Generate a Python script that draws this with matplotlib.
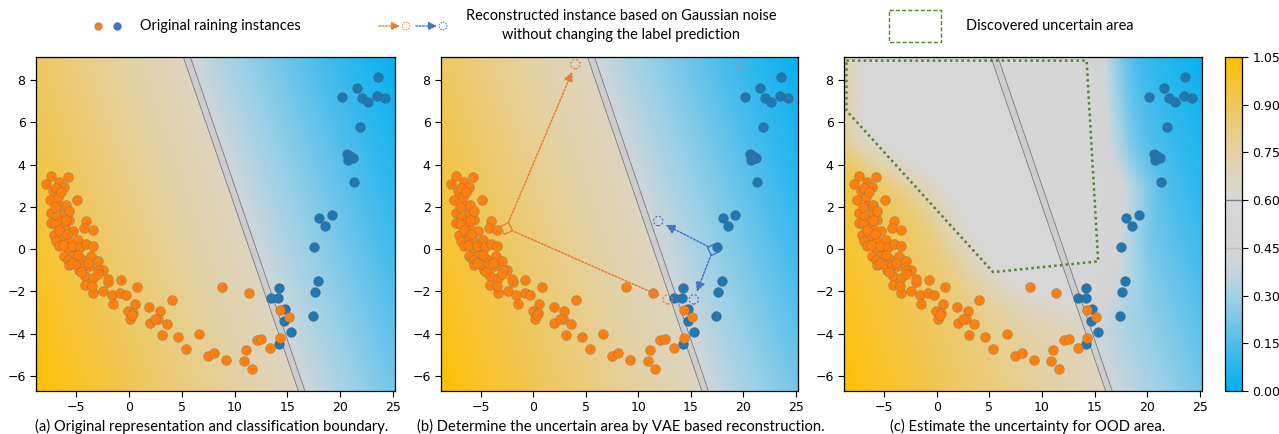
import numpy as np
import matplotlib
matplotlib.use("Agg")
import matplotlib.pyplot as plt
from matplotlib.colors import LinearSegmentedColormap, Normalize
from matplotlib.path import Path
from matplotlib.markers import MarkerStyle
from matplotlib.transforms import Affine2D
from matplotlib.patches import Polygon, Rectangle
import matplotlib.cm as cm

# ---------------- data ----------------
orange_x = [-7.37, -5.79, -7.84, -6.64, -6.11, -7.21, -7.52, -6.73, -6.9, -6.4,
            -6.58, -7.37, -6.26, -5.63, -7.0, -6.9, -6.0, -5.7,
            -7.37, -6.73, -5.95, -5.31, -6.4, -6.0, -7.0,
            -7.05, -6.26, -5.63, -4.84, -6.6, -5.9, -6.9,
            -6.58, -5.79, -5.0, -6.2, -5.4, -4.6,
            -6.11, -5.31, -4.37, -3.58, -2.95, -4.8, -5.8,
            -5.63, -4.69, -3.74, -2.47, -5.1, -4.2,
            -4.94, -4.05, -4.21, -3.42, -4.05, -3.42,
            -5.41, -3.84, -2.89, -4.15, -3.36, -1.94, -0.77, 0.80, -4.15, -3.36,
            -2.42, -1.62, -0.84, -0.30, -1.47, 0.58, 1.93, 4.05, -0.05, 0.42,
            0.11, 2.95, 2.0, 2.79, 3.58, 3.11, 4.62, 5.38, -2.0, -2.95, -3.5, -4.5,
            8.84, 11.37, 6.64, 7.46, 8.06, 9.22, 11.08, 10.89, 11.62, 12.09,
            12.53, 13.38, 14.30, 14.30, 15.12, 0.3, 2.5]
orange_y = [3.44, 3.41, 3.09, 3.20, 2.96, 2.73, 2.34, 2.49, 2.9, 2.7,
            2.02, 1.71, 1.63, 1.39, 2.0, 1.5, 2.1, 1.8,
            1.24, 1.08, 0.92, 0.84, 1.3, 1.4, 1.2,
            0.68, 0.53, 0.37, 0.45, 0.9, 0.7, 0.4,
            0.13, 0.06, -0.02, 0.2, 0.15, 0.1,
            -0.34, -0.34, -0.50, -0.34, -0.58, -0.3, -0.5,
            -0.73, -0.97, -0.81, -0.97, -0.7, -0.75,
            2.34, 1.31, 1.0, 0.89, 0.25, 0.13,
            -0.68, -0.65, -0.97, -1.28, -1.36, -1.55, -1.47, -1.78, -1.68, -2.07,
            -1.99, -2.19, -2.07, -2.19, -2.62, -2.59, -2.75, -2.42, -2.93, -3.04,
            -3.29, -2.93, -3.48, -3.33, -3.53, -4.08, -4.16, -4.74, -1.41, -1.20, -1.75, -1.1,
            -1.78, -2.07, -4.03, -5.06, -4.90, -5.25, -4.80, -5.28, -5.67, -4.32,
            -4.24, -4.68, -4.19, -2.87, -3.22, -3.1, -3.3]

blue_x = [23.60, 21.62, 20.14, 22.03, 22.65, 23.50, 24.23, 21.90, 20.61, 21.18,
          20.71, 20.92, 21.30, 19.19, 18.02, 18.53, 17.49, 17.93, 17.61, 17.39,
          14.21, 13.42, 14.14, 14.77, 14.68, 15.34, 14.23]
blue_y = [8.14, 7.64, 7.20, 7.15, 6.96, 7.24, 7.16, 5.77, 4.49, 4.33,
          4.21, 4.40, 3.20, 1.60, 1.49, 1.08, 0.10, -1.50, -2.04, -3.19,
          -1.82, -2.32, -2.30, -2.85, -3.41, -3.94, -4.51]

# decision boundary band (two parallel lines), x at the top / bottom of the view
bound_top_x = [5.15, 5.82]
bound_bot_x = [16.05, 16.67]

# panel (b) reconstruction examples
orange_src = (-2.6, 1.0)
orange_recon_x = [4.0, 12.79]
orange_recon_y = [8.76, -2.38]
orange_extra = (19.74, 8.76)
blue_src = (17.13, 0.0)
blue_recon_x = [11.89, 15.28]
blue_recon_y = [1.33, -2.38]

# panel (c) discovered uncertain area
area_x = [-8.57, 14.24, 15.34, 5.36, -8.57, -8.57]
area_y = [8.93, 8.93, -0.58, -1.09, 6.56, 8.93]

cbar_ticks = [0.00, 0.15, 0.30, 0.45, 0.60, 0.75, 0.90, 1.05]

XLIM = (-8.8, 25.2)
YLIM = (-6.72, 9.1)

# ---------------- figure ----------------
W, H = 1279, 434
fig = plt.figure(figsize=(W / 100, H / 100), dpi=100)

cmap = LinearSegmentedColormap.from_list("unc", [
    (0.0, "#00B0F0"),
    (0.15 / 1.05, "#4FBEEC"),
    (0.30 / 1.05, "#A2D2E6"),
    (0.40 / 1.05, "#CDD6DB"),
    (0.45 / 1.05, "#D4D4D4"),
    (0.60 / 1.05, "#D8D8D8"),
    (0.75 / 1.05, "#E3D2A6"),
    (0.90 / 1.05, "#F0C75A"),
    (1.0, "#FFC000")])
norm = Normalize(0, 1.05)

# field
nx, ny = 360, 340
xs = np.linspace(*XLIM, nx)
ys = np.linspace(*YLIM, ny)
X, Y = np.meshgrid(xs, ys)
cx_top = np.mean(bound_top_x); cx_bot = np.mean(bound_bot_x)
dvec = np.array([cx_bot - cx_top, YLIM[0] - YLIM[1]])
nvec = np.array([-dvec[1], dvec[0]]) / np.hypot(*dvec)
D = nvec[0] * (X - cx_top) + nvec[1] * (Y - YLIM[1])
base = np.interp(D, [-21, -0.3, 0.3, 3, 12, 17], [1.05, 0.67, 0.41, 0.32, 0.10, 0.0])


def blur(a, s):
    r = int(3 * s)
    k = np.exp(-0.5 * (np.arange(-r, r + 1) / s) ** 2)
    k /= k.sum()
    p = np.pad(a, r, mode="edge")
    t = np.apply_along_axis(lambda v: np.convolve(v, k, mode="valid"), 0, p)
    return np.apply_along_axis(lambda v: np.convolve(v, k, mode="valid"), 1, t)


gray_poly = [(-8.8, 9.1), (16.0, 9.1), (16.6, 3.5), (19.0, 3.2), (17.0, 1.0),
             (17.3, -1.3), (15.5, -2.8), (8.0, -2.6), (4.0, -1.0), (-1.0, 3.0),
             (-8.8, 5.0)]
inside = Path(gray_poly).contains_points(np.c_[X.ravel(), Y.ravel()]).reshape(X.shape)
w = blur(inside.astype(float), 18)
field_c = base + (0.57 - base) * np.clip(w * 1.1, 0, 1) * 0.92

pos = {
    "a": [36 / W, 43 / H, 359 / W, 334 / H],
    "b": [441 / W, 43 / H, 357 / W, 334 / H],
    "c": [844 / W, 43 / H, 358 / W, 334 / H],
}
axes = {k: fig.add_axes(v) for k, v in pos.items()}

tk = dict(labelsize=9, length=4, width=0.8, direction="out")
for key, ax in axes.items():
    F = field_c if key == "c" else base
    ax.imshow(F, extent=(*XLIM, *YLIM), origin="lower", aspect="auto",
              cmap=cmap, norm=norm, interpolation="bilinear", zorder=0)
    band = Polygon([(bound_top_x[0], YLIM[1]), (bound_top_x[1], YLIM[1]),
                    (bound_bot_x[1], YLIM[0]), (bound_bot_x[0], YLIM[0])],
                   closed=True, facecolor="#CDCDCD", edgecolor="none", zorder=1)
    ax.add_patch(band)
    for i in range(2):
        ax.plot([bound_top_x[i], bound_bot_x[i]], [YLIM[1], YLIM[0]],
                color="#7a7a7a", lw=0.6, zorder=2)
    ax.scatter(blue_x, blue_y, s=50, c="#1F77B4", edgecolors=(0.35, 0.35, 0.35, 0.5),
               linewidths=0.5, zorder=3)
    ax.scatter(orange_x, orange_y, s=50, c="#FF7F0E", edgecolors=(0.45, 0.45, 0.4, 0.5),
               linewidths=0.5, zorder=4)
    ax.set_xlim(*XLIM)
    ax.set_ylim(*YLIM)
    ax.set_xticks([-5, 0, 5, 10, 15, 20, 25])
    ax.set_yticks([-6, -4, -2, 0, 2, 4, 6, 8])
    ax.tick_params(**tk)
    for sp in ax.spines.values():
        sp.set_linewidth(0.9)

# panel b: reconstructions
axb = axes["b"]
OC, BC = "#ED7D31", "#4472C4"
dot = (0, (1.2, 1.2))
for (sx, sy), rx, ry, col in [(orange_src, orange_recon_x, orange_recon_y, OC),
                              (blue_src, blue_recon_x, blue_recon_y, BC)]:
    for ex, ey in zip(rx, ry):
        axb.annotate("", xy=(ex, ey), xytext=(sx, sy),
                     arrowprops=dict(arrowstyle="-|>,head_length=0.55,head_width=0.28",
                                     color=col, lw=1.1, linestyle=dot,
                                     shrinkA=4, shrinkB=6), zorder=6)
    axb.scatter(rx, ry, s=45, facecolors="none", edgecolors=col, linewidths=0.8,
                linestyles=(0, (2, 1.5)), zorder=7)
    ms = MarkerStyle("s", transform=Affine2D().rotate_deg(25))
    axb.plot([sx], [sy], marker=ms, ms=7, mfc="none", mec=col, mew=1.0, zorder=7)
axb.scatter([orange_extra[0]], [orange_extra[1]], s=45, facecolors="none", edgecolors=OC,
            linewidths=0.6, linestyles=(0, (2, 1.5)), alpha=0.7, zorder=7)

# panel c: uncertain area
axes["c"].plot(area_x, area_y, color="#548235", lw=1.8, linestyle=(0, (1, 1.3)), zorder=6)

# colorbar
cax = fig.add_axes([1225 / W, 43 / H, 17 / W, 334 / H])
cb = fig.colorbar(cm.ScalarMappable(norm=norm, cmap=cmap), cax=cax, ticks=cbar_ticks)
cb.ax.set_yticklabels([f"{t:.2f}" for t in cbar_ticks])
cb.ax.tick_params(**tk)
cb.ax.axhline(0.60, color="#808080", lw=1)
cb.ax.axhline(0.45, color="#C4C4C4", lw=1)
cb.outline.set_linewidth(0.9)

# ---------------- overlay for legend / captions ----------------
lax = fig.add_axes([0, 0, 1, 1], zorder=-1)
lax.set_xlim(0, W)
lax.set_ylim(H, 0)
lax.set_axis_off()

FONT = ["Lato", "DejaVu Sans"]
renderer = fig.canvas.get_renderer()


def fit_text(x, y, s, width, ha="left", size=None, **kw):
    t = lax.text(x, y, s, ha=ha, va="center", family=FONT, fontsize=10, **kw)
    if size is None:
        wpx = t.get_window_extent(renderer).width
        size = 10 * width / wpx
    t.set_fontsize(size)
    return size


# legend item 1
lax.plot([98], [26], "o", color="#ED7D31", ms=6, mec="none")
lax.plot([117], [26], "o", color="#4472C4", ms=6, mec="none")
fs = fit_text(140, 26, "Original raining instances", 160)

# legend item 2
for x0, col in [(379, OC), (416, BC)]:
    lax.annotate("", xy=(x0 + 21, 26), xytext=(x0, 26),
                 arrowprops=dict(arrowstyle="-|>,head_length=0.5,head_width=0.25",
                                 color=col, lw=1.0, linestyle=dot, shrinkA=0, shrinkB=0))
    lax.scatter([x0 + 27], [26], s=30, facecolors="none", edgecolors=col, linewidths=0.7,
                linestyles=(0, (1.5, 1.2)))
fit_text(621, 16, "Reconstructed instance based on Gaussian noise", 312, ha="center", size=fs)
fit_text(621, 35, "without changing the label prediction", 237, ha="center", size=fs)

# legend item 3
lax.add_patch(Rectangle((889, 10), 52, 32, fill=False, edgecolor="#548235", lw=1.0,
                        linestyle=(0, (3, 1.5))))
fit_text(966, 26, "Discovered uncertain area", 169, size=fs)

# captions
cs = fit_text(211.5, 426, "(a) Original representation and classification boundary.", 353, ha="center")
fit_text(621, 426, "(b) Determine the uncertain area by VAE based reconstruction.", 394, ha="center", size=cs)
fit_text(1028, 426, "(c) Estimate the uncertainty for OOD area.", 270, ha="center", size=cs)

fig.savefig("out.png", dpi=100)
